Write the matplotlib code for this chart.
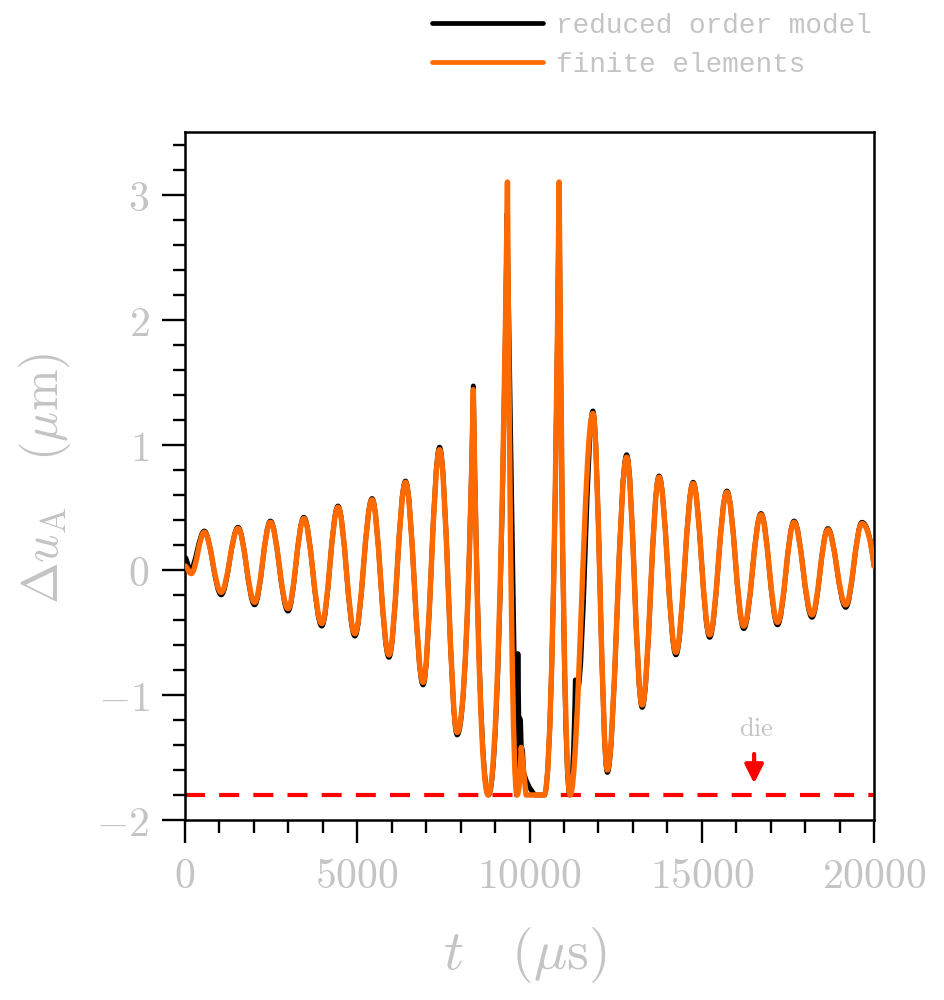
import matplotlib
matplotlib.use("Agg")
import matplotlib.pyplot as plt
from matplotlib.path import Path
from matplotlib.patches import PathPatch
from matplotlib.lines import Line2D
from matplotlib.ticker import MultipleLocator, FuncFormatter

plt.rcParams['mathtext.fontset'] = 'cm'

# extrema: time (us), displacement (um), node kind
# 's' = smooth turning point, 'v' = sharp corner (contact with the die)
fe_t = [0, 180, 560, 1050, 1540, 2020, 2480, 2990, 3450, 3970, 4440, 4930,
        5430, 5920, 6400, 6910, 7390, 7900, 8370, 8800, 9360, 9640, 9760,
        9900, 10430, 10860, 11180, 11840, 12260, 12820, 13270, 13760, 14250,
        14750, 15230, 15730, 16220, 16720, 17200, 17680, 18200, 18660, 19180,
        19650, 20000]
fe_u = [0.03, -0.03, 0.30, -0.18, 0.33, -0.26, 0.38, -0.31, 0.41, -0.43, 0.50,
        -0.51, 0.56, -0.68, 0.70, -0.90, 0.96, -1.30, 1.44, -1.80, 3.10, -1.80,
        -1.42, -1.80, -1.80, 3.10, -1.80, 1.25, -1.60, 0.90, -1.08, 0.74,
        -0.66, 0.69, -0.52, 0.62, -0.45, 0.44, -0.42, 0.38, -0.36, 0.32,
        -0.28, 0.37, 0.03]
fe_kind = list("ssssssssssssssssssvsvsvvsvssssssssssssssssssv")

rom_t = [0, 150, 560, 1050, 1540, 2020, 2480, 2990, 3450, 3970, 4440, 4930,
         5430, 5920, 6400, 6910, 7390, 7900, 8370, 8810, 9350, 9620, 9665,
         9690, 9740, 9760, 9800, 9830, 9900, 10000, 10150, 10430, 10860,
         11170, 11330, 11400, 11840, 12260, 12820, 13270, 13760, 14250,
         14750, 15230, 15730, 16220, 16720, 17200, 17680, 18200, 18660,
         19180, 19650, 20000]
rom_u = [0.10, 0.00, 0.31, -0.20, 0.34, -0.28, 0.39, -0.33, 0.42, -0.45, 0.51,
         -0.53, 0.57, -0.70, 0.71, -0.92, 0.98, -1.32, 1.47, -1.80, 2.85,
         -1.80, -0.67, -1.17, -1.20, -1.40, -1.45, -1.62, -1.68, -1.74, -1.80,
         -1.80, 3.08, -1.80, -0.88, -0.95, 1.27, -1.62, 0.92, -1.10, 0.75,
         -0.68, 0.70, -0.54, 0.63, -0.47, 0.45, -0.44, 0.39, -0.38, 0.33,
         -0.30, 0.38, 0.03]
rom_kind = list("ssssssssssssssssssvsvvvvvvvvvvvsvsvssssssssssssssssssv")

die_u = -1.8
die_t = 16520


def curve(t, u, kind, k=0.364, kp=0.42):
    # cubic bezier pieces: half-cosine between two turning points,
    # rounded arc between a turning point and a contact corner
    verts = [(t[0], u[0])]
    codes = [Path.MOVETO]
    for i in range(len(t) - 1):
        t0, u0, t1, u1 = t[i], u[i], t[i + 1], u[i + 1]
        dt = t1 - t0
        a, b = kind[i], kind[i + 1]
        if a == 's' and b == 's':
            c1 = (t0 + k * dt, u0)
            c2 = (t1 - k * dt, u1)
        elif a == 's':
            c1 = (t0 + kp * dt, u0)
            c2 = (t1 - dt / 4, u1 + 0.6 * (u0 - u1))
        elif b == 's':
            c1 = (t0 + dt / 4, u0 + 0.6 * (u1 - u0))
            c2 = (t1 - kp * dt, u1)
        else:
            c1 = (t0, u0)
            c2 = (t1, u1)
        verts += [c1, c2, (t1, u1)]
        codes += [Path.CURVE4] * 3
    return Path(verts, codes)


grey = '#c4c4c4'
orange = '#ff6a00'

fig = plt.figure(figsize=(9.44, 10), dpi=100)
ax = fig.add_axes([185 / 944, 0.18, 689 / 944, 0.688])

ax.plot([0, 20000], [die_u, die_u], color='red', lw=3, dashes=(4.8, 3.4), zorder=1)
ax.add_patch(PathPatch(curve(rom_t, rom_u, rom_kind), fill=False, edgecolor='black',
                       lw=3.5, capstyle='round', joinstyle='round', zorder=2))
ax.add_patch(PathPatch(curve(fe_t, fe_u, fe_kind), fill=False, edgecolor=orange,
                       lw=3.9, capstyle='round', joinstyle='round', zorder=3))

ax.annotate('', xy=(die_t, -1.73), xytext=(die_t, -1.45),
            arrowprops=dict(arrowstyle='-|>', color='red', lw=3, mutation_scale=28))
ax.text(die_t + 80, -1.27, r'$\rm die$', color=grey, fontsize=19, ha='center', va='center')

ax.set_xlim(0, 20000)
ax.set_ylim(-2, 3.5)
ax.xaxis.set_major_locator(MultipleLocator(5000))
ax.xaxis.set_minor_locator(MultipleLocator(1000))
ax.yaxis.set_major_locator(MultipleLocator(1))
ax.yaxis.set_minor_locator(MultipleLocator(0.2))
fmt = FuncFormatter(lambda x, p: r'$%d$' % round(x))
ax.xaxis.set_major_formatter(fmt)
ax.yaxis.set_major_formatter(fmt)
ax.tick_params(which='both', direction='out', top=False, right=False, width=1.7,
               colors='black', labelcolor=grey, labelsize=30)
ax.tick_params(which='major', length=16.5, pad=9)
ax.tick_params(which='minor', length=9)
for s in ax.spines.values():
    s.set_linewidth(1.8)

fig.text(525 / 944, 1 - 955 / 1000, r'$t\ \ \ (\mu{\rm s})$', color=grey, fontsize=40,
         ha='center', va='center')
fig.text(45 / 944, 1 - 478 / 1000, r'$\Delta u_{\rm A}\ \ \ (\mu{\rm m})$', color=grey,
         fontsize=36, ha='center', va='center', rotation=90)

handles = [Line2D([], [], color='black', lw=3.4, solid_capstyle='round'),
           Line2D([], [], color=orange, lw=3.4, solid_capstyle='round')]
fig.legend(handles, ['reduced order model', 'finite elements'], loc='upper left',
           bbox_to_anchor=(407 / 944, 1.012), frameon=False, handlelength=4.0,
           handletextpad=0.45, labelspacing=0.45,
           prop={'family': 'Liberation Mono', 'size': 20}, labelcolor=grey)

fig.savefig('out.png', dpi=100, facecolor='white')
